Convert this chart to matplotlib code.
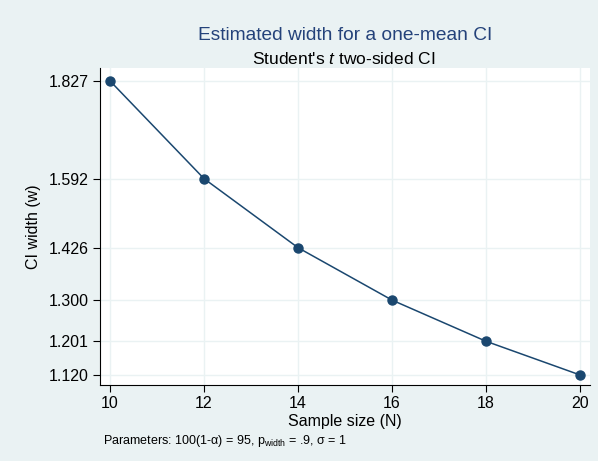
import numpy as np
import matplotlib.pyplot as plt

plt.rcParams['font.family'] = ['Liberation Sans', 'DejaVu Sans']
plt.rcParams['mathtext.fontset'] = 'custom'
plt.rcParams['mathtext.rm'] = 'Liberation Sans'
plt.rcParams['mathtext.it'] = 'Liberation Sans:italic'

# data
sample_size = [10, 12, 14, 16, 18, 20]
ci_width = [1.827, 1.592, 1.426, 1.300, 1.201, 1.120]
ytick_labels = ['1.827', '1.592', '1.426', '1.300', '1.201', '1.120']

navy = '#1a476f'
bg = '#eaf2f3'

fig = plt.figure(figsize=(5.98, 4.61), dpi=100)
fig.patch.set_facecolor(bg)
ax = fig.add_axes([0.1672, 0.1649, 0.8194, 0.6876])
ax.set_facecolor('white')

ax.plot(sample_size, ci_width, color=navy, lw=1.1, marker='o', ms=6.5,
        markerfacecolor=navy, markeredgecolor=navy, zorder=3)

ax.set_xlim(9.787, 20.21)
ax.set_ylim(1.096, 1.858)
ax.set_xticks(sample_size)
ax.set_yticks(ci_width)
ax.set_yticklabels(ytick_labels)
ax.tick_params(labelsize=11.5, length=5, width=0.8, colors='black', pad=3)
ax.grid(True, color='#eaf2f3', lw=1.0)
ax.set_axisbelow(True)
for s in ['top', 'right']:
    ax.spines[s].set_visible(False)
for s in ['left', 'bottom']:
    ax.spines[s].set_linewidth(0.8)

ax.set_xlabel('Sample size (N)', fontsize=11.5, labelpad=2)
ax.set_ylabel('CI width (w)', fontsize=11.5, labelpad=6)

fig.text(0.5765, 0.924, 'Estimated width for a one-mean CI', ha='center', va='center',
         fontsize=13.8, color='#24427a')
fig.text(0.5755, 0.873, "Student's $\\mathit{t}$ two-sided CI", ha='center', va='center',
         fontsize=12.5, color='black')
fig.text(0.172, 0.043, 'Parameters: 100(1-\u03b1) = 95, p$_{\\mathrm{width}}$ = .9, \u03c3 = 1',
         ha='left', va='center', fontsize=9)

fig.savefig('out.png', dpi=100, facecolor=bg)
